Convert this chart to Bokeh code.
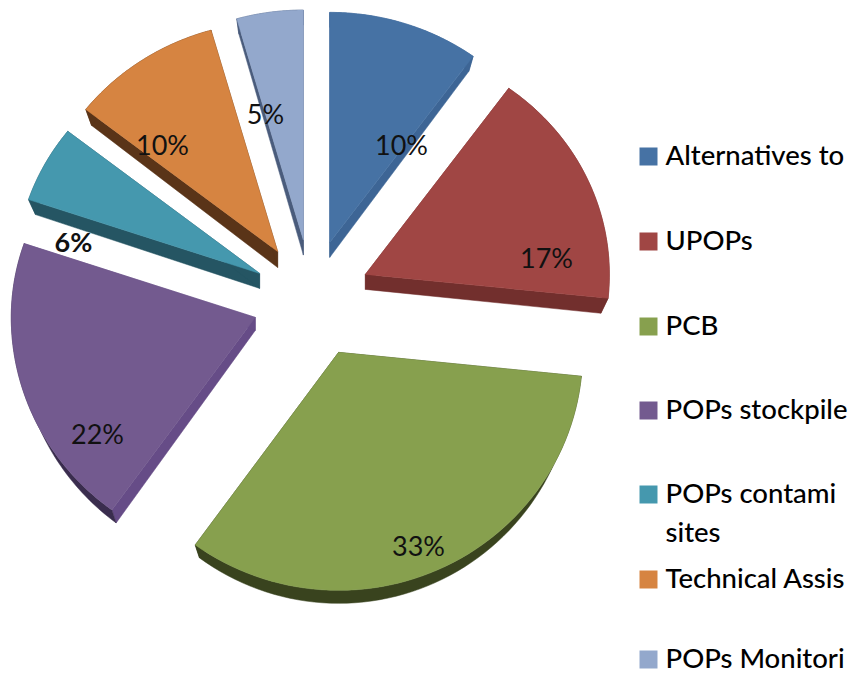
from math import sin, cos, radians
from bokeh.plotting import figure
from bokeh.models import Range1d
from bokeh.core.properties import value
from bokeh.embed import file_html
from bokeh.resources import INLINE

# ---- data ----
categories = ["Alternatives to", "UPOPs", "PCB", "POPs stockpile", "POPs contami", "Technical Assis", "POPs Monitori"]
shares = [10.0, 16.6, 33.4, 20.2, 5.4, 10.0, 4.4]   # slice sizes as measured on the picture
pct_labels = ["10%", "17%", "33%", "22%", "6%", "10%", "5%"]

# ---- style ----
top_colors = ["#4672A4", "#A04644", "#87A04E", "#735A8F", "#4598AE", "#D68441", "#93A8CC"]
arc_colors = ["#3D6595", "#722F2D", "#39431E", "#3A2D4E", "#255563", "#5A3418", "#4A5C7C"]
edge_colors = ["#3D6595", "#722F2D", "#39431E", "#664C87", "#255563", "#5A3418", "#4A5C7C"]
depth = [15, 15, 13, 13, 15, 16, 15]
nudge = [(0, 0), (0, 0), (3, 0), (0, 1), (0, 3), (-1, 2), (0, 0)]
CX, CY, EXPLODE = 311, 298, 59
RX, RY_TOP, RY_BOTTOM = 244, 230, 238
SHRINK = 0.03
pct_pos = [(401, 144), (546, 257), (418, 545), (97, 433), (73, 241), (162, 144), (265, 113)]
legend_y = [156, 241, 326, 410, 494, 579, 659]
FONT = "Lato Medium"

p = figure(width=852, height=675, output_backend="svg", toolbar_location=None,
           x_range=Range1d(0, 852), y_range=Range1d(675, 0),
           min_border=0, outline_line_color=None)
p.axis.visible = False
p.grid.visible = False
p.background_fill_color = "white"
p.border_fill_color = "white"


def rim(ax, ay, a0, a1, n=60):
    """Points of the slice's arc, clockwise from the top, in picture coordinates."""
    pts = []
    for i in range(n + 1):
        t = radians(a0 + (a1 - a0) * i / n)
        c = cos(t)
        pts.append((ax + RX * sin(t), ay - (RY_TOP if c > 0 else RY_BOTTOM) * c))
    return pts


total = sum(shares)
cum = 0.0
for i, s in enumerate(shares):
    a0 = 360 * cum / total
    a1 = 360 * (cum + s) / total
    cum += s
    mid = radians((a0 + a1) / 2)
    ax = CX + EXPLODE * sin(mid) + nudge[i][0]
    ay = CY - EXPLODE * cos(mid) + nudge[i][1]
    pts = rim(ax, ay, a0, a1)
    d = depth[i]
    low = [(x + (ax - x) * SHRINK, y + d) for x, y in pts]

    # side faces, then the top face
    for q, r in ((pts[0], low[0]), (pts[-1], low[-1])):
        p.patch([ax, q[0], r[0], ax], [ay, q[1], r[1], ay + d],
                fill_color=edge_colors[i], line_color=edge_colors[i], line_width=0.5)
    p.patch([x for x, _ in pts] + [x for x, _ in reversed(low)],
            [y for _, y in pts] + [y for _, y in reversed(low)],
            fill_color=arc_colors[i], line_color=arc_colors[i], line_width=0.5)
    p.patch([ax] + [x for x, _ in pts], [ay] + [y for _, y in pts],
            fill_color=top_colors[i], line_color=top_colors[i], line_width=0.5)

# percentage labels
for i, lab in enumerate(pct_labels):
    x, y = pct_pos[i]
    p.text([x], [y], text=[lab], text_font=value("Lato"), text_font_size="27px",
           text_align="center", text_baseline="middle", text_color="#111111",
           text_font_style="bold" if lab == "6%" else "normal")

# legend
for i, cat in enumerate(categories):
    y = legend_y[i]
    p.rect([648], [y], width=18, height=18, fill_color=top_colors[i], line_color=None)
    p.text([665], [y - 2], text=[cat], text_font=value(FONT), text_font_size="27.5px",
           text_align="left", text_baseline="middle", text_color="black")
p.text([665], [531], text=["sites"], text_font=value(FONT), text_font_size="27.5px",
       text_align="left", text_baseline="middle", text_color="black")

open("out.html", "w").write(file_html(p, INLINE))
